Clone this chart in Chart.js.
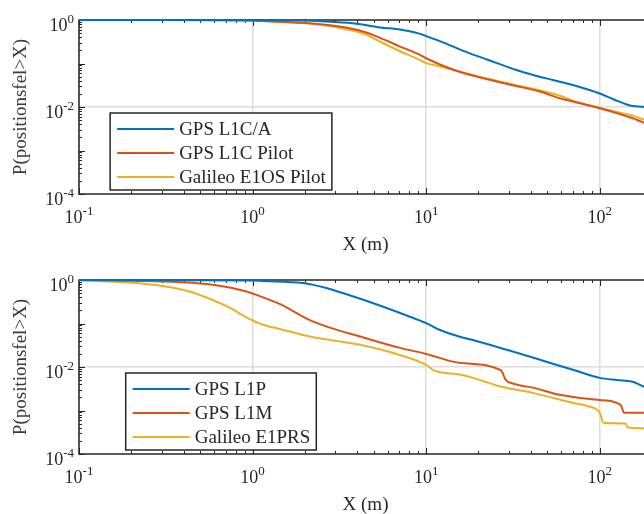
<!DOCTYPE html>
<html>
<head>
<meta charset="utf-8">
<script src="https://cdn.jsdelivr.net/npm/chart.js@4.4.1/dist/chart.umd.min.js"></script>
<style>
  html, body { margin: 0; padding: 0; background: #fff; overflow: hidden; }
  body { width: 644px; height: 514px; position: relative; }
  .panel { position: absolute; left: 0; width: 660px; height: 260px; }
</style>
</head>
<body>
<div class="panel" style="top:0"><canvas id="chartTop" width="660" height="260"></canvas></div>
<div class="panel" style="top:260px"><canvas id="chartBottom" width="660" height="260"></canvas></div>
<script>
// axes: position error X in metres (log), P(error > X) (log)
const xRange = [0.1, 200];
const yRange = [1e-4, 1];
const xTicks = [0.1, 1, 10, 100];
const yTicks = [1e-4, 1e-2, 1];
const colors = ['#0072BD', '#D95319', '#EDB120'];

// top panel
const topLabels = ['GPS L1C/A', 'GPS L1C Pilot', 'Galileo E1OS Pilot'];
const topBlueX = [0.1, 1, 1.58, 2.0, 2.82, 3.98, 5.43, 7.08, 9.23, 10, 12.6, 17.4, 22.9, 33.1, 42.7, 53.7, 70.8, 100, 120, 155, 182, 251];
const topBlueP = [1, 1, 0.989, 0.973, 0.912, 0.822, 0.676, 0.603, 0.479, 0.427, 0.302, 0.178, 0.120, 0.0708, 0.0525, 0.0417, 0.0316, 0.0204, 0.0151, 0.0105, 0.0100, 0.00631];
const topRedX = [0.1, 0.316, 1, 1.45, 1.95, 2.63, 3.51, 4.47, 5.43, 7.08, 9.23, 10, 14.5, 21.4, 31.6, 45.7, 58.9, 70.8, 100, 155, 182, 251];
const topRedP = [1, 0.998, 0.966, 0.912, 0.861, 0.776, 0.661, 0.525, 0.389, 0.245, 0.158, 0.132, 0.0708, 0.0457, 0.0316, 0.0224, 0.0158, 0.0132, 0.00933, 0.00550, 0.00427, 0.00251];
const topYellowX = [0.1, 0.316, 1, 1.45, 1.95, 2.63, 3.51, 4.47, 5.43, 7.08, 9.23, 10, 11.2, 15.1, 21.4, 31.6, 45.7, 58.9, 70.8, 100, 155, 182, 251];
const topYellowP = [1, 0.998, 0.959, 0.902, 0.851, 0.750, 0.603, 0.468, 0.316, 0.191, 0.120, 0.102, 0.0912, 0.0676, 0.0468, 0.0331, 0.0240, 0.0182, 0.0138, 0.00955, 0.00631, 0.00501, 0.00355];

// bottom panel
const bottomLabels = ['GPS L1P', 'GPS L1M', 'Galileo E1PRS'];
const botBlueX = [0.1, 0.316, 1, 1.10, 1.95, 2.69, 3.31, 5.25, 8.13, 10, 12.0, 15.8, 18.6, 29.5, 45.7, 70.8, 100, 126, 155, 182, 251];
const botBlueP = [1, 0.993, 0.977, 0.955, 0.851, 0.646, 0.501, 0.269, 0.141, 0.102, 0.0708, 0.0490, 0.0417, 0.0245, 0.0145, 0.00851, 0.00562, 0.00501, 0.00457, 0.00347, 0.00251];
const botRedX = [0.1, 0.195, 0.380, 0.589, 0.933, 1.15, 1.45, 2.14, 2.82, 4.17, 7.08, 10, 15.8, 26.9, 28.8, 31.6, 41.7, 58.9, 100, 132, 138, 200, 251];
const botRedP = [1, 0.955, 0.891, 0.776, 0.537, 0.398, 0.275, 0.120, 0.0794, 0.0501, 0.0275, 0.0200, 0.0123, 0.00851, 0.00501, 0.00417, 0.00331, 0.00229, 0.00174, 0.00135, 0.000891, 0.000891, 0.000794];
const botYellowX = [0.1, 0.195, 0.302, 0.437, 0.589, 0.741, 0.933, 1.15, 1.45, 2.14, 4.17, 6.46, 10, 11.0, 15.8, 18.6, 26.9, 41.7, 70.8, 85.1, 100, 105, 141, 145, 251];
const botYellowP = [0.989, 0.871, 0.724, 0.537, 0.347, 0.229, 0.135, 0.0933, 0.0741, 0.0501, 0.0324, 0.0209, 0.0112, 0.00851, 0.00661, 0.00562, 0.00355, 0.00251, 0.00148, 0.00126, 0.000891, 0.000525, 0.000501, 0.000407, 0.000380];

const FONT = '"Liberation Serif", "Times New Roman", serif';
const INK = '#262626';

function isDecade(v) {
  const l = Math.log10(v);
  return Math.abs(l - Math.round(l)) < 1e-9;
}

function logSteps(min, max) {
  const out = [];
  for (let e = Math.floor(Math.log10(min)); e <= Math.ceil(Math.log10(max)); e++) {
    for (let k = 1; k < 10; k++) {
      const v = k * Math.pow(10, e);
      if (v >= min * 0.999 && v <= max * 1.001) out.push([v, k === 1]);
    }
  }
  return out;
}

function drawPow(ctx, value, x, y, align) {
  const base = '10';
  const exp = String(Math.round(Math.log10(value)));
  ctx.font = '18px ' + FONT;
  const wb = ctx.measureText(base).width;
  ctx.font = '13px ' + FONT;
  const we = ctx.measureText(exp).width;
  const left = align === 'center' ? x - (wb + we) / 2 : x - (wb + we);
  ctx.font = '18px ' + FONT;
  ctx.fillText(base, left, y);
  ctx.font = '13px ' + FONT;
  ctx.fillText(exp, left + wb, y - 8);
}

// box, inward ticks and power-of-ten tick labels, MATLAB style
const axesDecor = {
  id: 'axesDecor',
  beforeDatasetsDraw(chart) {
    const {ctx, chartArea: a, scales: {x, y}} = chart;
    ctx.save();
    ctx.strokeStyle = INK;
    ctx.lineWidth = 1;
    ctx.beginPath();
    logSteps(x.min, x.max).forEach(([v, major]) => {
      const p = Math.round(x.getPixelForValue(v)) + 0.5;
      const len = major ? 6 : 3;
      ctx.moveTo(p, a.bottom); ctx.lineTo(p, a.bottom - len);
      ctx.moveTo(p, a.top); ctx.lineTo(p, a.top + len);
    });
    logSteps(y.min, y.max).forEach(([v, major]) => {
      const p = Math.round(y.getPixelForValue(v)) + 0.5;
      const len = major ? 6 : 3;
      ctx.moveTo(a.left, p); ctx.lineTo(a.left + len, p);
      ctx.moveTo(a.right, p); ctx.lineTo(a.right - len, p);
    });
    ctx.stroke();
    ctx.lineWidth = 1.5;
    ctx.strokeRect(a.left, a.top, a.right - a.left, a.bottom - a.top);

    ctx.fillStyle = INK;
    ctx.textAlign = 'left';
    ctx.textBaseline = 'alphabetic';
    xTicks.forEach(v => drawPow(ctx, v, x.getPixelForValue(v), a.bottom + 29, 'center'));
    yTicks.forEach(v => drawPow(ctx, v, a.left - 5, y.getPixelForValue(v) + 11, 'right'));
    ctx.restore();
  }
};

// legend box inside the axes
const boxLegend = {
  id: 'boxLegend',
  afterDraw(chart, args, opts) {
    const {ctx, chartArea: a} = chart;
    const sets = chart.data.datasets;
    ctx.save();
    ctx.font = '19px ' + FONT;
    const tw = Math.max(...sets.map(d => ctx.measureText(d.label).width));
    const w = 68 + tw + 7, h = 77;
    const left = a.left + opts.centerOffset - w / 2;
    const top = a.bottom - 4 - h;
    ctx.fillStyle = '#fff';
    ctx.fillRect(left, top, w, h);
    ctx.strokeStyle = INK;
    ctx.lineWidth = 1.5;
    ctx.strokeRect(left, top, w, h);
    sets.forEach((d, i) => {
      const cy = top + 16 + i * 24;
      ctx.strokeStyle = d.borderColor;
      ctx.lineWidth = 2;
      ctx.beginPath();
      ctx.moveTo(left + 7, cy);
      ctx.lineTo(left + 64, cy);
      ctx.stroke();
      ctx.fillStyle = INK;
      ctx.textBaseline = 'middle';
      ctx.textAlign = 'left';
      ctx.fillText(d.label, left + 69, cy + 1);
    });
    ctx.restore();
  }
};

function series(label, xs, ps, color) {
  return {
    label: label,
    data: xs.map((x, i) => ({x: x, y: ps[i]})),
    borderColor: color,
    backgroundColor: color,
    borderWidth: 2,
    pointRadius: 0,
    cubicInterpolationMode: 'monotone',
    clip: false
  };
}

function makeChart(id, datasets) {
  return new Chart(document.getElementById(id), {
    type: 'line',
    data: { datasets: datasets },
    options: {
      responsive: false,
      animation: false,
      devicePixelRatio: 1,
      layout: { padding: { top: 20, right: 8, left: 0, bottom: 0 } },
      plugins: {
        legend: { display: false },
        tooltip: { enabled: false },
        boxLegend: { centerOffset: 142 }
      },
      scales: {
        x: {
          type: 'logarithmic',
          min: xRange[0],
          max: xRange[1],
          ticks: { display: false },
          border: { display: false },
          grid: {
            drawTicks: false,
            lineWidth: 1.5,
            color: c => (c.tick && isDecade(c.tick.value)) ? '#dcdcdc' : 'rgba(0,0,0,0)'
          },
          title: {
            display: true,
            text: 'X (m)',
            color: INK,
            font: { family: FONT, size: 19 },
            padding: { top: 0, bottom: 4 }
          },
          afterFit: s => { s.height = 66; }
        },
        y: {
          type: 'logarithmic',
          min: yRange[0],
          max: yRange[1],
          ticks: { display: false },
          border: { display: false },
          grid: {
            drawTicks: false,
            lineWidth: 1.5,
            color: c => (c.tick && Math.abs(Math.log10(c.tick.value) + 2) < 1e-9) ? '#dcdcdc' : 'rgba(0,0,0,0)'
          },
          title: {
            display: true,
            text: 'P(positionsfel>X)',
            color: '#3a3a3a',
            font: { family: FONT, size: 19 },
            padding: { top: 10, bottom: 0 }
          },
          afterFit: s => { s.width = 79; }
        }
      }
    },
    plugins: [axesDecor, boxLegend]
  });
}

const topChart = makeChart('chartTop', [
  series(topLabels[0], topBlueX, topBlueP, colors[0]),
  series(topLabels[1], topRedX, topRedP, colors[1]),
  series(topLabels[2], topYellowX, topYellowP, colors[2])
]);

const bottomChart = makeChart('chartBottom', [
  series(bottomLabels[0], botBlueX, botBlueP, colors[0]),
  series(bottomLabels[1], botRedX, botRedP, colors[1]),
  series(bottomLabels[2], botYellowX, botYellowP, colors[2])
]);
</script>
</body>
</html>
